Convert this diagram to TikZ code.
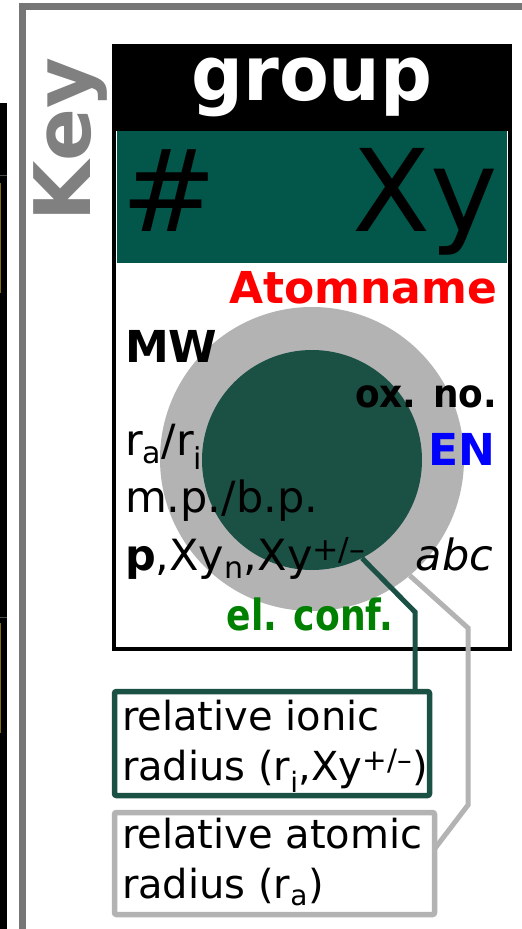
\documentclass[tikz,border=0pt]{standalone}
\usepackage{fontspec}
\setmainfont{DejaVu Sans}
\definecolor{hdrgreen}{HTML}{02574A}
\definecolor{iongreen}{HTML}{1B5045}
\definecolor{atomgray}{HTML}{B3B3B3}
\definecolor{framegray}{HTML}{767676}
\definecolor{keygray}{HTML}{808080}
\definecolor{elgreen}{HTML}{008000}
\definecolor{tablegold}{HTML}{8A6A10}
\newcommand\setfs[1]{\fontsize{#1}{#1}\selectfont}
% lowered subscript and charge superscript
\newcommand\lsub[1]{\textsubscript{\raisebox{-2.5pt}{#1}}}
\newcommand\chg{\textsuperscript{\scalebox{1.05}{+/--}}}
\tikzset{
  txt/.style={inner sep=0pt, outer sep=0pt},
  ionline/.style={draw=iongreen, line width=5pt},
  atomline/.style={draw=atomgray, line width=5pt},
  ionbox/.style={draw=iongreen, line width=5.5pt, rounded corners=2pt, fill=white, inner sep=0pt},
  atombox/.style={draw=atomgray, line width=5.5pt, rounded corners=2pt, fill=white, inner sep=0pt},
  boxtext/.style={txt, anchor=base west, font=\setfs{40}},
}
\begin{document}
\begin{tikzpicture}[x=1pt, y=-1pt]
\useasboundingbox (0,0) rectangle (522,929);
\fill[white] (0,0) rectangle (522,929);

% edge of the neighbouring table column
\fill[black] (0,103) rectangle (7,929);
\draw[gray!60!black, line width=0.8pt] (0,175) -- (7,175);
\draw[gray!60!black, line width=0.8pt] (0,617) -- (7,617);
\fill[tablegold] (0,183) rectangle (1.3,293);
\fill[tablegold] (0,623) rectangle (1.3,733);

% frame of the key panel
\draw[framegray, line width=6.7pt] (22.7,935) -- (22.7,6.7) -- (530,6.7);
\node[txt, rotate=90, anchor=base west, text=keygray, font=\bfseries\setfs{78}] (key) at (90,221) {Key};

% element cell
\node[draw=black, line width=4pt, fill=white, minimum width=396pt, minimum height=603pt, inner sep=0pt] (cell) at (312,347.5) {};
\fill[black] (112,44) rectangle (512,131);
\fill[hdrgreen] (117,131) rectangle (507,263);
\node[txt, anchor=base, text=white, font=\bfseries\setfs{76}] (grp) at (312,100) {\scalebox{0.955}[1]{group}};
\node[txt, anchor=base west, font=\setfs{114}] (num) at (121,231) {\#};
\node[txt, anchor=base east, font=\setfs{114}] (sym) at (498,231) {Xy};

% atomic and ionic radius discs
\node[circle, fill=atomgray, minimum size=304pt, inner sep=0pt] (outer) at (312,459) {};
\node[circle, fill=iongreen, minimum size=220pt, inner sep=0pt] (inner) at (312,460) {};

% leader lines to the legend boxes
\node[ionbox, minimum width=315pt, minimum height=104pt] (ionic) at (272,743.5) {};
\node[atombox, minimum width=320pt, minimum height=102pt] (atomic) at (274.5,863.5) {};
\coordinate (ionbend) at (415,612);
\coordinate (atbendA) at (468,628);
\coordinate (atbendB) at (468,805);
\coordinate (atend) at (434.5,849);
\draw[ionline] (inner.-63.4) -- (ionbend) -- (ionbend |- ionic.north);
\draw[atomline] (outer.-50.7) -- (atbendA) -- (atbendB) -- (atend);

% cell entries
\node[txt, anchor=base east, text=red, font=\bfseries\setfs{44}] (aname) at (497,303) {Atomname};
\node[txt, anchor=base west, font=\bfseries\setfs{44}] (mw) at (125,362) {MW};
\node[txt, anchor=base east, font=\bfseries\setfs{39}] (ox) at (497,407) {\scalebox{0.92}[1]{ox. no.}};
\node[txt, anchor=base east, text=blue, font=\bfseries\setfs{44}] (en) at (495,465) {EN};
\node[txt, anchor=base west, font=\setfs{43}] (radii) at (125,455) {r\lsub{a}/r\lsub{i}};
\node[txt, anchor=base west, font=\setfs{43}] (mpbp) at (125,512) {m.p./b.p.};
\node[txt, anchor=base west, font=\setfs{43}] (ions) at (125,570) {\textbf{p},Xy\lsub{n},Xy\chg};
\node[txt, anchor=base east, font=\itshape\setfs{43}] (abc) at (493,570) {abc};
\node[txt, anchor=base, text=elgreen, font=\bfseries\setfs{43}] (elconf) at (310,630) {\scalebox{0.84}[1]{el. conf.}};

% legend texts
\node[boxtext] (ionA) at (122,730) {relative ionic};
\node[boxtext] (ionB) at (122,780) {radius (r\lsub{i},Xy\chg)};
\node[boxtext] (atA) at (122,848) {relative atomic};
\node[boxtext] (atB) at (122,898) {radius (r\lsub{a})};
\end{tikzpicture}
\end{document}
